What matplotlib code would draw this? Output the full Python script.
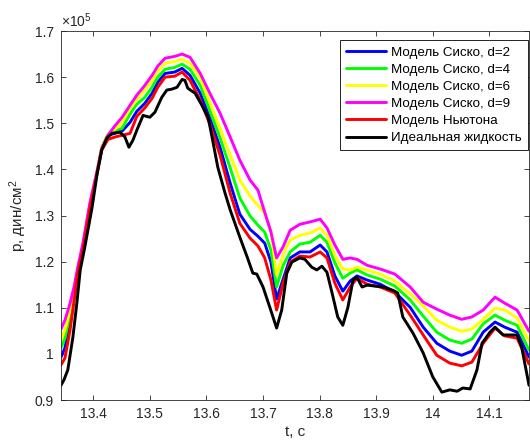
import numpy as np
import matplotlib
matplotlib.use("Agg")
import matplotlib.pyplot as plt
from matplotlib.ticker import FuncFormatter

plt.rcParams['font.family'] = ['Liberation Sans', 'DejaVu Sans']
plt.rcParams['mathtext.fontset'] = 'custom'
plt.rcParams['mathtext.rm'] = 'Liberation Sans'
plt.rcParams['mathtext.it'] = 'Liberation Sans:italic'

# time grid shared by the Sisko / Newton curves, s
t_models = [13.343, 13.350, 13.359, 13.366, 13.373, 13.382, 13.394, 13.407, 13.415, 13.426,
            13.438, 13.451, 13.465, 13.477, 13.491, 13.504, 13.514, 13.527, 13.544, 13.557,
            13.571, 13.589, 13.606, 13.624, 13.642, 13.659, 13.677, 13.691, 13.703, 13.714,
            13.724, 13.735, 13.748, 13.765, 13.783, 13.801, 13.813, 13.827, 13.841, 13.854,
            13.866, 13.884, 13.907, 13.933, 13.960, 13.983, 14.007, 14.030, 14.051, 14.069,
            14.089, 14.110, 14.127, 14.149, 14.170]

# pressure, x1e5 dyn/cm^2
p_sisko_d9 = [1.054, 1.073, 1.110, 1.145, 1.190, 1.242, 1.327, 1.398, 1.446, 1.474,
              1.494, 1.513, 1.539, 1.561, 1.582, 1.604, 1.624, 1.641, 1.645, 1.650,
              1.643, 1.608, 1.565, 1.522, 1.470, 1.420, 1.377, 1.355, 1.307, 1.264,
              1.208, 1.231, 1.268, 1.281, 1.286, 1.292, 1.273, 1.236, 1.205, 1.208,
              1.205, 1.192, 1.184, 1.173, 1.145, 1.112, 1.097, 1.084, 1.075, 1.080,
              1.095, 1.123, 1.110, 1.095, 1.049]
p_sisko_d6 = [1.030, 1.052, 1.095, 1.136, 1.186, 1.238, 1.325, 1.398, 1.448, 1.476,
              1.487, 1.502, 1.533, 1.552, 1.572, 1.593, 1.613, 1.630, 1.634, 1.639,
              1.630, 1.598, 1.546, 1.489, 1.431, 1.377, 1.342, 1.322, 1.305, 1.268,
              1.171, 1.214, 1.247, 1.257, 1.262, 1.273, 1.257, 1.214, 1.184, 1.182,
              1.188, 1.182, 1.173, 1.158, 1.130, 1.104, 1.073, 1.058, 1.049, 1.054,
              1.075, 1.099, 1.095, 1.078, 1.028]
p_sisko_d4 = [1.013, 1.034, 1.084, 1.132, 1.184, 1.236, 1.322, 1.396, 1.448, 1.476,
              1.483, 1.489, 1.520, 1.541, 1.556, 1.578, 1.600, 1.617, 1.621, 1.628,
              1.617, 1.582, 1.528, 1.468, 1.403, 1.338, 1.299, 1.279, 1.264, 1.225,
              1.145, 1.190, 1.221, 1.238, 1.242, 1.257, 1.242, 1.197, 1.164, 1.175,
              1.182, 1.171, 1.162, 1.147, 1.117, 1.082, 1.047, 1.030, 1.023, 1.032,
              1.065, 1.084, 1.073, 1.062, 1.008]
p_sisko_d2 = [0.993, 1.013, 1.069, 1.123, 1.182, 1.231, 1.320, 1.394, 1.446, 1.474,
              1.478, 1.483, 1.502, 1.526, 1.543, 1.565, 1.589, 1.608, 1.611, 1.619,
              1.604, 1.565, 1.511, 1.448, 1.370, 1.303, 1.270, 1.255, 1.240, 1.199,
              1.119, 1.160, 1.208, 1.221, 1.221, 1.236, 1.221, 1.169, 1.136, 1.158,
              1.169, 1.160, 1.151, 1.134, 1.101, 1.058, 1.023, 1.006, 0.997, 1.006,
              1.047, 1.069, 1.058, 1.047, 0.993]
p_newton = [0.976, 0.991, 1.052, 1.114, 1.177, 1.227, 1.314, 1.392, 1.442, 1.465,
            1.470, 1.474, 1.478, 1.515, 1.533, 1.554, 1.578, 1.600, 1.602, 1.611,
            1.593, 1.550, 1.498, 1.431, 1.348, 1.283, 1.251, 1.234, 1.208, 1.160,
            1.095, 1.151, 1.199, 1.212, 1.210, 1.221, 1.208, 1.153, 1.117, 1.145,
            1.164, 1.151, 1.145, 1.132, 1.084, 1.041, 0.997, 0.980, 0.974, 0.982,
            1.023, 1.056, 1.039, 1.034, 0.978]

# ideal fluid has its own, finer time grid
t_ideal = [13.343, 13.348, 13.355, 13.364, 13.371, 13.377, 13.385, 13.398, 13.407, 13.415,
           13.424, 13.433, 13.447, 13.456, 13.463, 13.470, 13.477, 13.488, 13.500, 13.509,
           13.521, 13.530, 13.539, 13.548, 13.557, 13.562, 13.567, 13.580, 13.592, 13.603,
           13.611, 13.620, 13.633, 13.642, 13.659, 13.672, 13.682, 13.689, 13.700, 13.712,
           13.724, 13.733, 13.742, 13.751, 13.765, 13.774, 13.786, 13.795, 13.804, 13.813,
           13.822, 13.832, 13.841, 13.850, 13.859, 13.866, 13.875, 13.884, 13.898, 13.912,
           13.929, 13.938, 13.947, 13.965, 13.983, 14.000, 14.016, 14.030, 14.043, 14.053,
           14.066, 14.078, 14.087, 14.101, 14.110, 14.124, 14.149, 14.157, 14.170]
p_ideal = [0.932, 0.943, 0.965, 1.036, 1.110, 1.182, 1.231, 1.318, 1.392, 1.442,
           1.468, 1.478, 1.481, 1.470, 1.448, 1.463, 1.485, 1.517, 1.513, 1.524,
           1.556, 1.572, 1.574, 1.578, 1.595, 1.593, 1.576, 1.565, 1.539, 1.513,
           1.463, 1.405, 1.348, 1.312, 1.253, 1.210, 1.175, 1.173, 1.145, 1.101,
           1.056, 1.095, 1.175, 1.199, 1.208, 1.205, 1.188, 1.182, 1.190, 1.177,
           1.132, 1.080, 1.062, 1.101, 1.160, 1.166, 1.145, 1.149, 1.147, 1.145,
           1.138, 1.132, 1.080, 1.045, 1.002, 0.950, 0.917, 0.922, 0.919, 0.926,
           0.924, 0.965, 1.023, 1.047, 1.058, 1.041, 1.041, 1.015, 0.932]

labels = ['Модель Сиско, d=2', 'Модель Сиско, d=4', 'Модель Сиско, d=6',
          'Модель Сиско, d=9', 'Модель Ньютона', 'Идеальная жидкость']

fig = plt.figure(figsize=(5.30, 4.45), dpi=100)
ax = fig.add_axes([61 / 530, 45 / 445, 468 / 530, 369 / 445])

style = dict(lw=2.1, solid_joinstyle='round', solid_capstyle='round')
ax.plot(t_models, p_sisko_d2, color=(0, 0, 1), label=labels[0], **style)
ax.plot(t_models, p_sisko_d4, color=(0, 1, 0), label=labels[1], **style)
ax.plot(t_models, p_sisko_d6, color=(1, 1, 0), label=labels[2], **style)
ax.plot(t_models, p_sisko_d9, color=(1, 0, 1), label=labels[3], **style)
ax.plot(t_models, p_newton, color=(1, 0, 0), label=labels[4], **style)
ax.plot(t_ideal, p_ideal, color='k', label=labels[5], **style)

ax.set_xlim(13.343, 14.170)
ax.set_ylim(0.9, 1.7)
ax.set_xticks(np.arange(13.4, 14.15, 0.1))
ax.set_yticks(np.arange(0.9, 1.75, 0.1))
fmt = FuncFormatter(lambda v, pos: f'{v:.1f}'.rstrip('0').rstrip('.'))
ax.xaxis.set_major_formatter(fmt)
ax.yaxis.set_major_formatter(fmt)

edge = '#262626'
for s in ax.spines.values():
    s.set_color(edge)
    s.set_linewidth(0.6)
ax.tick_params(direction='in', length=3.5, width=0.6, color=edge,
               top=True, right=True, labelsize=10, labelcolor=edge, pad=5)

ax.set_xlabel('t, с', fontsize=11, color=edge, labelpad=3)
ax.set_ylabel('p, дин/см$^2$', fontsize=11, color=edge, labelpad=4)
ax.text(0.0, 1.004, r'$\times$10$^5$', transform=ax.transAxes, ha='left', va='bottom',
        fontsize=10, color=edge)

leg = ax.legend(loc='upper right', bbox_to_anchor=(0.998, 0.975), fontsize=9.6,
                frameon=True, fancybox=False, framealpha=1, edgecolor='k',
                handlelength=3.0, handletextpad=0.4, labelspacing=0.36,
                borderpad=0.45, borderaxespad=0.0)
leg.get_frame().set_linewidth(0.6)

fig.savefig('out.png', dpi=100)
